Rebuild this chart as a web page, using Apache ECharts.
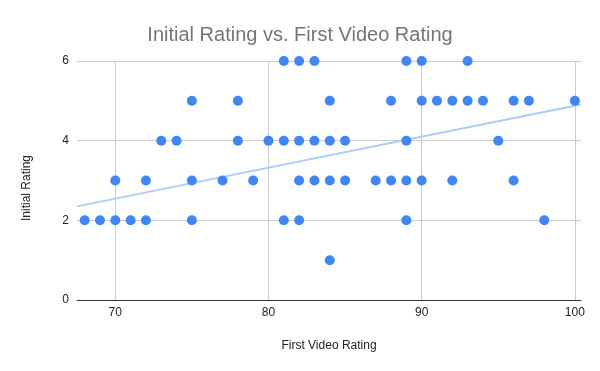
<!DOCTYPE html>
<html><head><meta charset="utf-8">
<script src="https://cdn.jsdelivr.net/npm/echarts@6/dist/echarts.min.js"></script>
<style>html,body{margin:0;padding:0;background:#fff}#c{width:600px;height:371px}</style>
</head><body><div id="c"></div>
<script>
// First Video Rating (x) and Initial Rating (y) pairs
const firstVideo = [68,69,70,71,72,75,81,82,89,98,
  70,72,75,77,79,82,83,84,85,87,88,89,90,92,96,
  73,74,78,80,81,82,83,84,85,89,95,
  75,78,84,88,90,91,92,93,94,96,97,100,
  81,82,83,89,90,93,
  84];
const initialRating = [2,2,2,2,2,2,2,2,2,2,
  3,3,3,3,3,3,3,3,3,3,3,3,3,3,3,
  4,4,4,4,4,4,4,4,4,4,4,
  5,5,5,5,5,5,5,5,5,5,5,5,
  6,6,6,6,6,6,
  1];
// Trendline endpoints
const trendX = [67.5, 100.4];
const trendY = [2.35, 4.91];
const xTicks = [70, 80, 90, 100];
const yTicks = [0, 2, 4, 6];

const pts = firstVideo.map((x, i) => [x, initialRating[i]]);
const trend = trendX.map((x, i) => [x, trendY[i]]);

const chart = echarts.init(document.getElementById('c'), null, {renderer: 'canvas'});
chart.setOption({
  animation: false,
  backgroundColor: '#fff',
  title: {
    text: 'Initial Rating vs. First Video Rating',
    left: 'center', top: 20,
    textStyle: {fontFamily: 'Liberation Sans, Arial', fontSize: 20, fontWeight: 'normal', color: '#757575'}
  },
  grid: {left: 77, right: 19, top: 61, bottom: 71, containLabel: false},
  xAxis: {
    type: 'value', min: 67.5, max: 100.4,
    name: 'First Video Rating', nameLocation: 'middle', nameGap: 40,
    nameTextStyle: {color: '#222', fontSize: 12, fontFamily: 'Liberation Sans, Arial'},
    axisLine: {show: true, lineStyle: {color: '#333', width: 1}},
    axisTick: {show: false, customValues: xTicks},
    axisLabel: {customValues: xTicks, color: '#222', fontSize: 12, fontFamily: 'Liberation Sans, Arial', margin: 7},
    splitLine: {show: true, lineStyle: {color: '#cccccc', width: 1}}
  },
  yAxis: {
    type: 'value', min: 0, max: 6, interval: 2,
    axisLine: {show: false},
    axisTick: {show: false},
    axisLabel: {color: '#222', fontSize: 12, fontFamily: 'Liberation Sans, Arial', margin: 8},
    splitLine: {show: true, lineStyle: {color: '#cccccc', width: 1}}
  },
  graphic: [
    {type: 'text', x: 21, y: 221, rotation: Math.PI / 2, style: {text: 'Initial Rating', fill: '#222', font: '12px "Liberation Sans", Arial'}}
  ],
  series: [
    {
      type: 'line', data: trend, showSymbol: false, symbol: 'none', silent: true,
      lineStyle: {color: '#aecbfa', width: 2}, z: 1
    },
    {
      type: 'scatter', data: pts, symbolSize: 10,
      itemStyle: {color: '#4285f4', opacity: 1}, z: 2
    }
  ]
});
</script></body></html>
